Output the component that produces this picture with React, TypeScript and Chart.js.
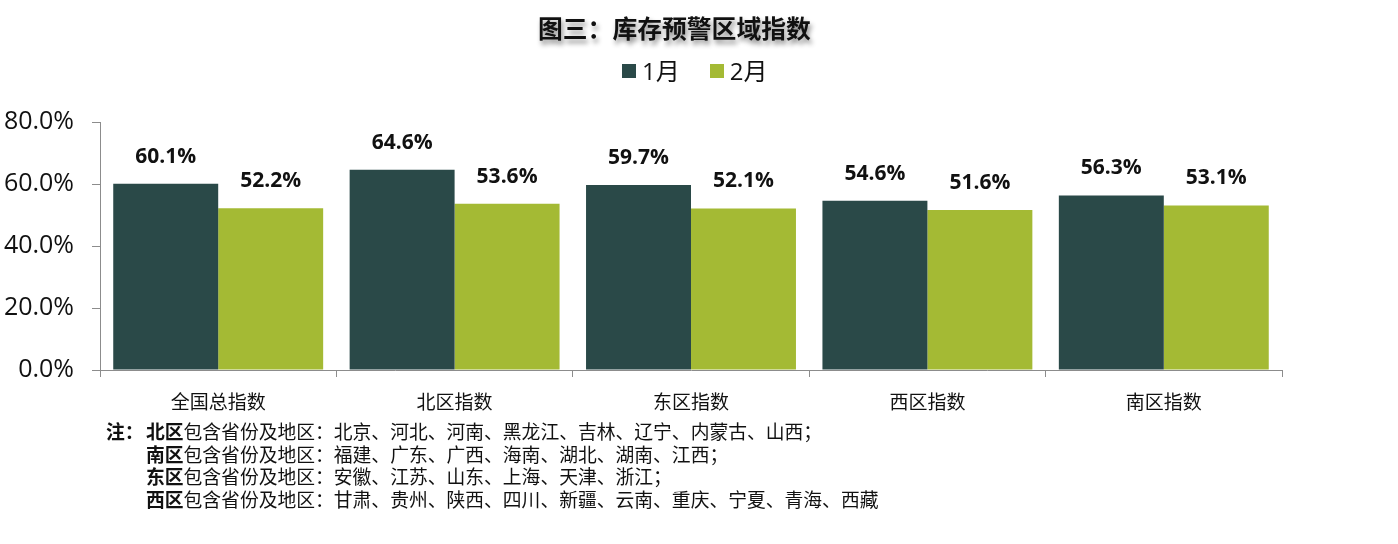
import React, { useEffect, useRef } from "react";
import { Chart, registerables } from "chart.js";

Chart.register(...registerables);

const titleText = "图三：库存预警区域指数";
const categories = ["全国总指数", "北区指数", "东区指数", "西区指数", "南区指数"];
const seriesNames = ["1月", "2月"];
const janValues = [60.1, 64.6, 59.7, 54.6, 56.3];
const febValues = [52.2, 53.6, 52.1, 51.6, 53.1];
const seriesColors = ["#2A4948", "#A4BA34"];
const yTicks = [0, 20, 40, 60, 80];
const noteRegions = ["北区", "南区", "东区", "西区"];
const noteLists = [
  "北京、河北、河南、黑龙江、吉林、辽宁、内蒙古、山西；",
  "福建、广东、广西、海南、湖北、湖南、江西；",
  "安徽、江苏、山东、上海、天津、浙江；",
  "甘肃、贵州、陕西、四川、新疆、云南、重庆、宁夏、青海、西藏",
];

const FONT = '"Open Sans", "Noto Sans CJK SC", sans-serif';
const CJK = '"Noto Sans CJK SC", "Open Sans", sans-serif';

const labelPlugin = {
  id: "barLabels",
  afterDatasetsDraw(chart: any) {
    const ctx = chart.ctx;
    ctx.save();
    ctx.font = `bold 21px ${FONT}`;
    ctx.fillStyle = "#111";
    ctx.textAlign = "center";
    ctx.textBaseline = "middle";
    chart.data.datasets.forEach((ds: any, di: number) => {
      const meta = chart.getDatasetMeta(di);
      meta.data.forEach((bar: any, i: number) => {
        ctx.fillText(ds.data[i].toFixed(1) + "%", bar.x, bar.y - 27);
      });
    });
    ctx.restore();
  },
};

export default function App() {
  const canvasRef = useRef<HTMLCanvasElement>(null);

  useEffect(() => {
    const canvas = canvasRef.current;
    if (!canvas) return;
    const chart = new Chart(canvas, {
      type: "bar",
      data: {
        labels: categories,
        datasets: [
          {
            label: seriesNames[0],
            data: janValues,
            backgroundColor: seriesColors[0],
            categoryPercentage: 0.888,
            barPercentage: 1,
          },
          {
            label: seriesNames[1],
            data: febValues,
            backgroundColor: seriesColors[1],
            categoryPercentage: 0.888,
            barPercentage: 1,
          },
        ],
      },
      options: {
        responsive: false,
        animation: false,
        layout: { padding: { top: 122, right: 116, left: 0, bottom: 0 } },
        plugins: {
          legend: { display: false },
          title: { display: false },
          tooltip: { enabled: false },
        },
        scales: {
          x: {
            afterFit: (s: any) => {
              s.height = 174;
            },
            grid: {
              offset: true,
              drawOnChartArea: false,
              drawTicks: true,
              tickLength: 7,
              color: "#8C8C8C",
            },
            border: { display: true, color: "#8C8C8C", width: 1 },
            ticks: {
              color: "#111",
              font: { size: 19, family: CJK },
              padding: 13,
              maxRotation: 0,
            },
          },
          y: {
            min: 0,
            max: 80,
            afterFit: (s: any) => {
              s.width = 100;
            },
            afterBuildTicks: (s: any) => {
              s.ticks = yTicks.map((v) => ({ value: v }));
            },
            grid: {
              drawOnChartArea: false,
              drawTicks: true,
              tickLength: 8,
              color: "#8C8C8C",
            },
            border: { display: true, color: "#8C8C8C", width: 1 },
            ticks: {
              color: "#111",
              font: { size: 25, family: FONT },
              padding: 18,
              callback: (v: any) => Number(v).toFixed(1) + "%",
            },
          },
        },
      },
      plugins: [labelPlugin],
    });
    return () => chart.destroy();
  }, []);

  return (
    <div
      style={{
        position: "fixed",
        left: 0,
        top: 0,
        width: 1398,
        height: 544,
        background: "#fff",
        overflow: "hidden",
      }}
    >
      <canvas ref={canvasRef} width={1398} height={544} style={{ position: "absolute", left: 0, top: 0 }} />
      <div
        style={{
          position: "absolute",
          left: 538,
          top: 11,
          fontFamily: CJK,
          fontWeight: 700,
          fontSize: 24.8,
          lineHeight: "32px",
          color: "#111",
          whiteSpace: "nowrap",
          textShadow: "2px 4px 5px rgba(0,0,0,0.45)",
        }}
      >
        {titleText}
      </div>
      <div
        style={{
          position: "absolute",
          left: 622,
          top: 56,
          display: "flex",
          alignItems: "center",
          fontFamily: FONT,
          fontSize: 24,
          lineHeight: "30px",
          color: "#111",
          whiteSpace: "nowrap",
        }}
      >
        {seriesNames.map((n, i) => (
          <div key={n} style={{ display: "flex", alignItems: "center", marginRight: i === 0 ? 30 : 0 }}>
            <span style={{ display: "inline-block", width: 14, height: 14, background: seriesColors[i], marginRight: 6 }} />
            <span>{n}</span>
          </div>
        ))}
      </div>
      <div
        style={{
          position: "absolute",
          left: 106,
          top: 420,
          fontFamily: CJK,
          fontSize: 18.8,
          lineHeight: "22.5px",
          color: "#111",
          whiteSpace: "nowrap",
        }}
      >
        {noteRegions.map((r, i) => (
          <div key={r} style={{ display: "flex" }}>
            <span style={{ width: 40, fontWeight: 700 }}>{i === 0 ? "注：" : ""}</span>
            <span style={{ fontWeight: 700 }}>{r}</span>
            <span>包含省份及地区：{noteLists[i]}</span>
          </div>
        ))}
      </div>
    </div>
  );
}
